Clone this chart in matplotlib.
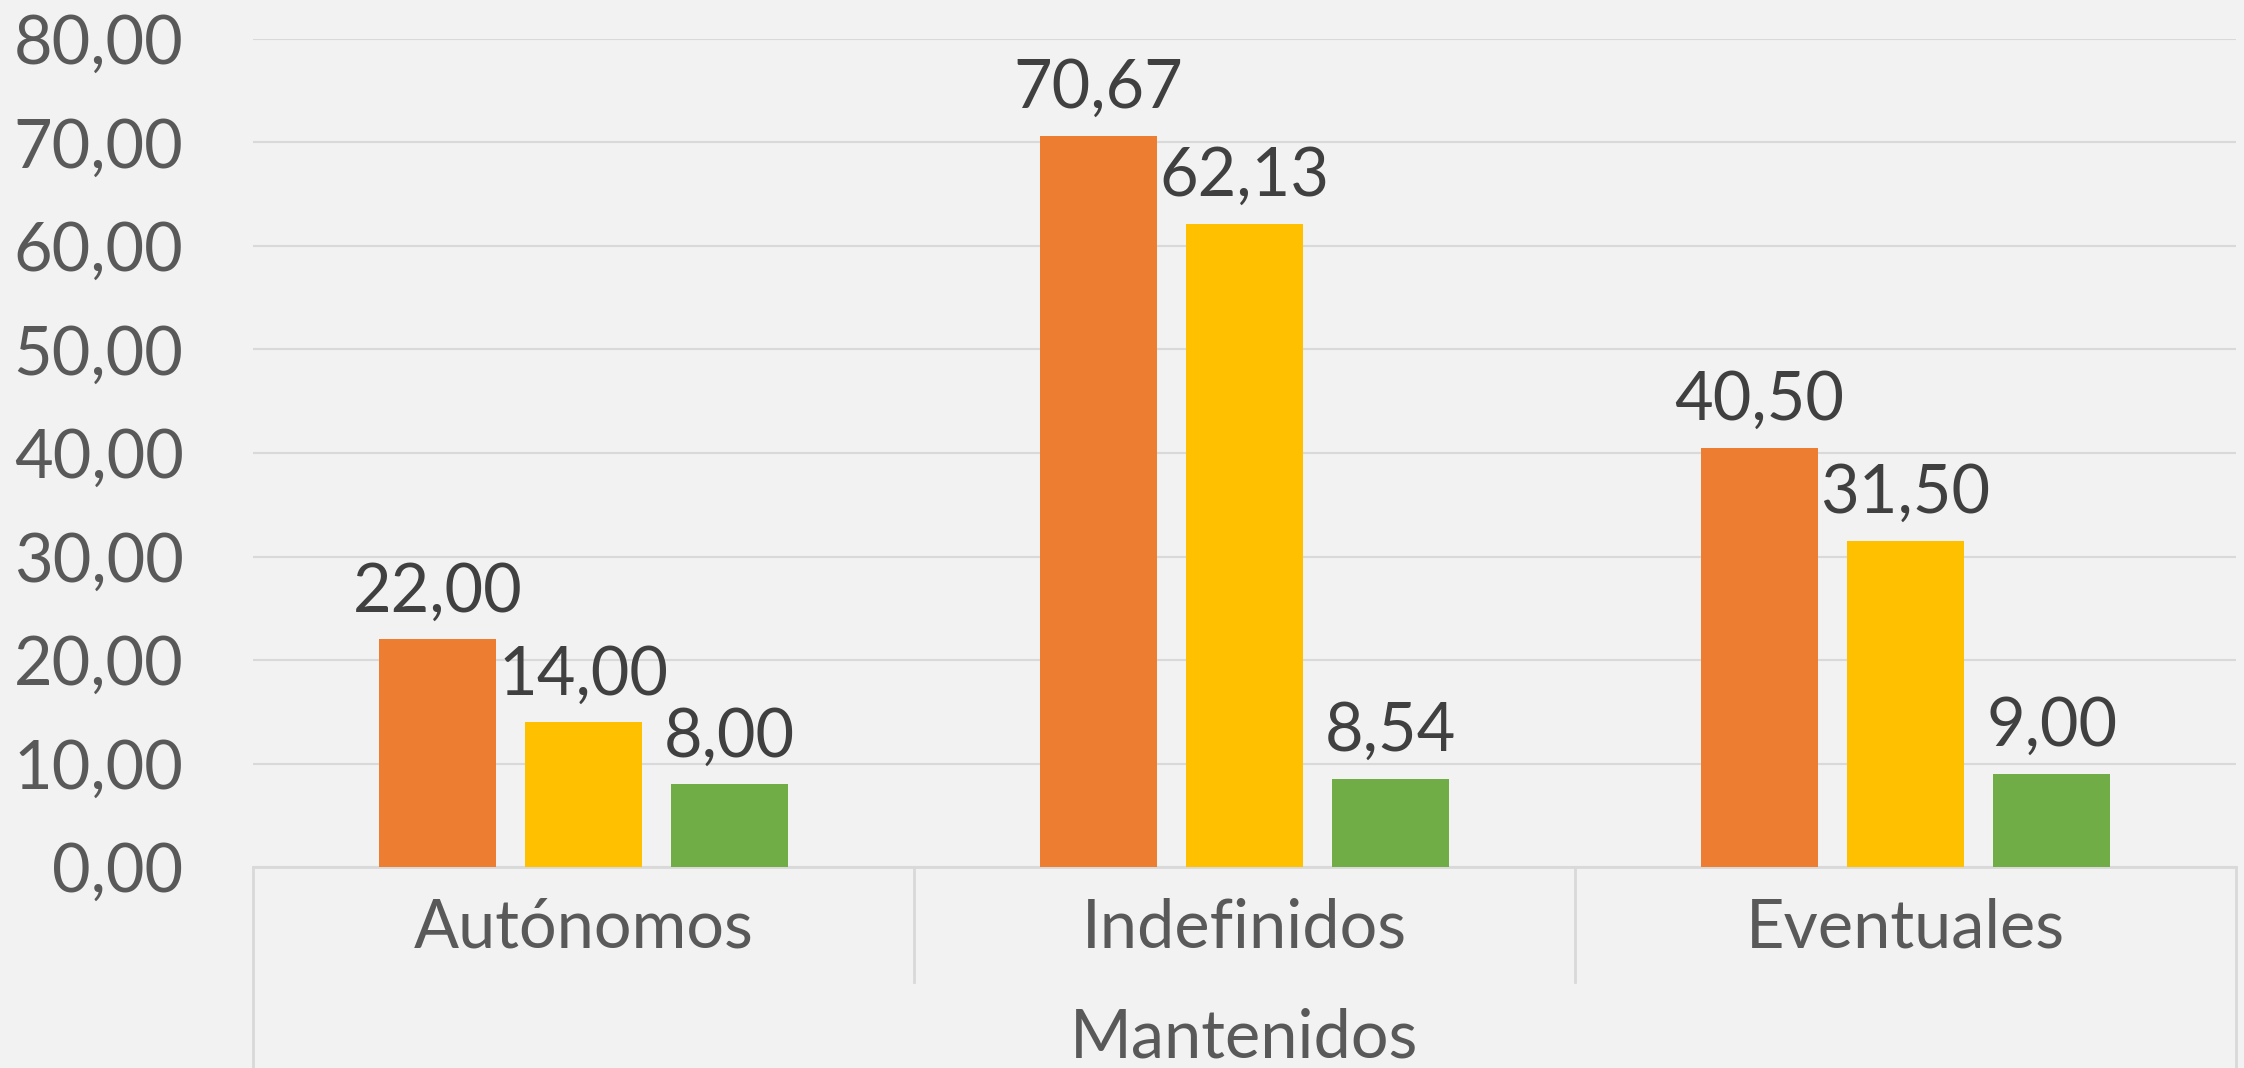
import matplotlib
matplotlib.use('Agg')
import matplotlib.pyplot as plt
from matplotlib.lines import Line2D
import numpy as np

# datos
categorias = ['Autónomos', 'Indefinidos', 'Eventuales']
grupo = 'Mantenidos'
serie_1 = [22.00, 70.67, 40.50]
serie_2 = [14.00, 62.13, 31.50]
serie_3 = [8.00, 8.54, 9.00]
y_ticks = [0, 10, 20, 30, 40, 50, 60, 70, 80]

colores = ['#ED7D31', '#FFC000', '#70AD47']
FONDO = '#F2F2F2'
GRID = '#D9D9D9'
TXT_EJE = '#595959'
TXT_VAL = '#404040'

plt.rcParams['font.family'] = ['Lato', 'DejaVu Sans']
FS = 48

W, H = 2244, 1068
fig = plt.figure(figsize=(W / 100, H / 100), dpi=100, facecolor=FONDO)

x_left, x_right = 253, 2236
y_top, y_zero = 39, 867
ax = fig.add_axes([x_left / W, 1 - y_zero / H, (x_right - x_left) / W, (y_zero - y_top) / H])
ax.set_facecolor(FONDO)

x = np.arange(len(categorias))
paso = 0.221
ancho = 0.176
for i, (vals, col) in enumerate(zip([serie_1, serie_2, serie_3], colores)):
    pos = x + (i - 1) * paso
    ax.bar(pos, vals, width=ancho, color=col, zorder=3)
    for xp, v in zip(pos, vals):
        ax.annotate(f'{v:.2f}'.replace('.', ','), xy=(xp, v), xytext=(0, 20),
                    textcoords='offset points', ha='center', va='baseline',
                    fontsize=FS, color=TXT_VAL, zorder=4)

ax.set_xlim(-0.5, len(categorias) - 0.5)
ax.set_ylim(0, 80)
ax.set_yticks(y_ticks)
ax.set_yticklabels([f'{t:.2f}'.replace('.', ',') for t in y_ticks], fontsize=FS, color=TXT_EJE)
ax.tick_params(axis='y', length=0, pad=50)
ax.set_xticks([])
ax.grid(axis='y', color=GRID, linewidth=1.5, zorder=0)
for s in ['top', 'right', 'left']:
    ax.spines[s].set_visible(False)
ax.spines['bottom'].set_color(GRID)
ax.spines['bottom'].set_linewidth(2)

# eje de categorias con grupo
alto = y_zero - y_top
trans = ax.get_xaxis_transform()
y_int = -(982 - y_zero) / alto
y_ext = -(H - y_zero + 5) / alto
for xb in np.arange(len(categorias) + 1) - 0.5:
    yb = y_ext if xb in (-0.5, len(categorias) - 0.5) else y_int
    ax.add_line(Line2D([xb, xb], [0, yb], transform=trans, color=GRID,
                       linewidth=2, clip_on=False))

for xc, cat in zip(x, categorias):
    ax.text(xc, -(948 - y_zero) / alto, cat, transform=trans, ha='center',
            va='baseline', fontsize=FS, color=TXT_EJE)
ax.text(np.mean(x), -(1057 - y_zero) / alto, grupo, transform=trans, ha='center',
        va='baseline', fontsize=FS, color=TXT_EJE)

fig.savefig('out.png', dpi=100, facecolor=FONDO)
